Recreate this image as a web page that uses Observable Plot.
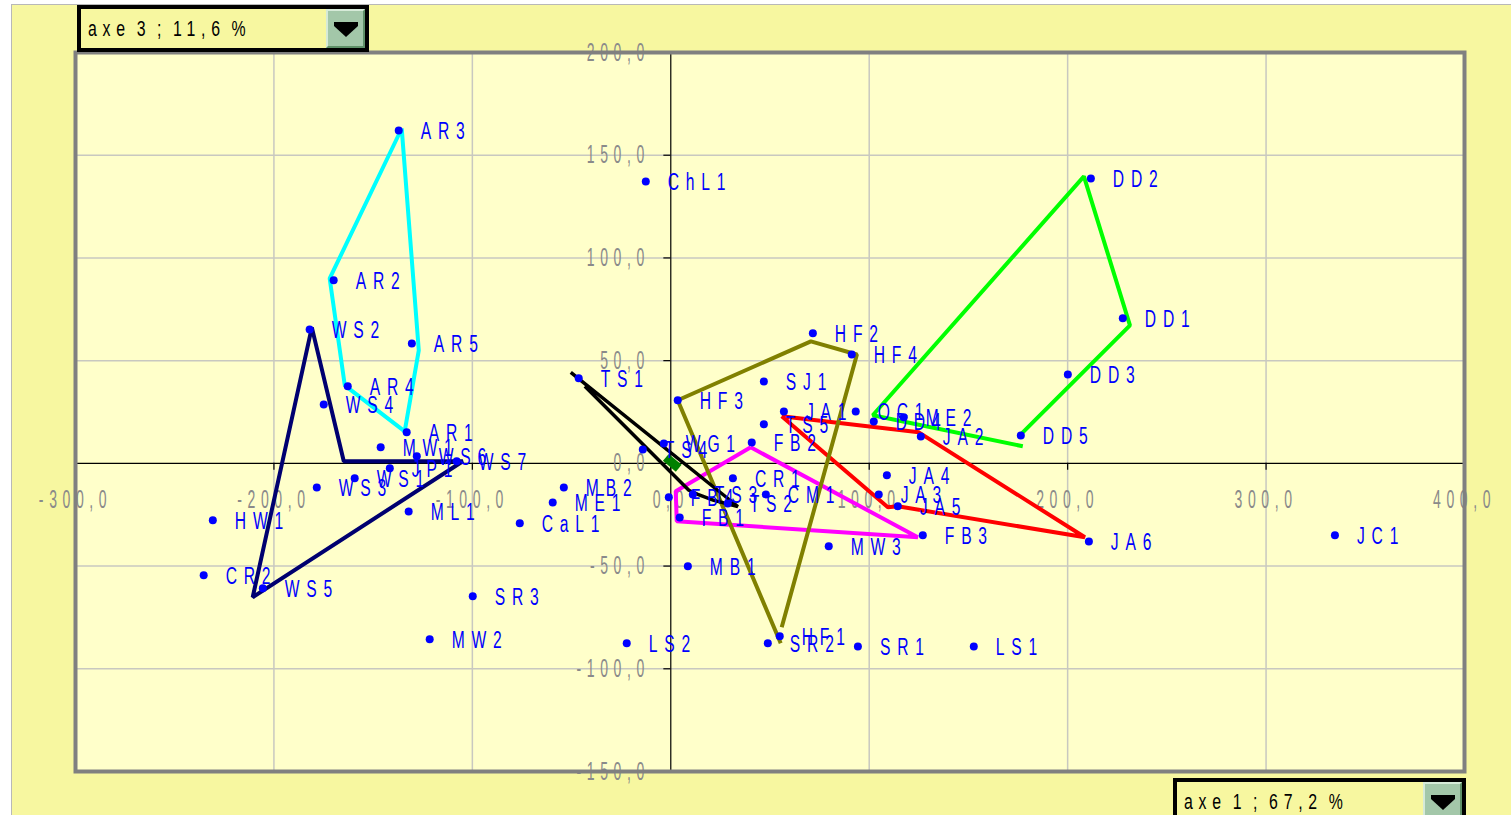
<!DOCTYPE html>
<html>
<head>
<meta charset="utf-8">
<script src="https://cdn.jsdelivr.net/npm/d3@7"></script>
<script src="https://cdn.jsdelivr.net/npm/@observablehq/plot@0.6"></script>
<style>
  html, body { margin: 0; padding: 0; background: #fff; }
  #wrap { position: relative; width: 1511px; height: 815px; overflow: hidden; background: #fff; }
  #bg { position: absolute; left: 11px; top: 4px; right: 0; bottom: 0; background: #f7f7a0;
        border-left: 1px solid #b8b8b8; border-top: 1px solid #b8b8b8; }
  #chart { position: absolute; left: 0; top: 0; }
  #chart svg { display: block; }
  .axbox { position: absolute; box-sizing: border-box; border: 4px solid #000; background: #f7f7a0;
           height: 47px; }
  .axbox .txt { position: absolute; left: 7px; top: 0; line-height: 39px; font-size: 22px;
           font-family: 'Liberation Sans', Arial, sans-serif; letter-spacing: 8px; word-spacing: -6px;
           color: #000; white-space: pre; transform: scaleX(0.72); transform-origin: left center; }
  .axbox .btn { position: absolute; right: 0; top: 0; width: 39px; height: 39px; box-sizing: border-box;
           background: #a3c7a9; border-top: 2px solid #d6ead8; border-left: 2px solid #d6ead8;
           border-right: 2px solid #5f9068; border-bottom: 2px solid #5f9068; }
  .axbox .btn svg { position: absolute; left: 6px; top: 11px; }
</style>
</head>
<body>
<div id="wrap">
  <div id="bg"></div>
  <div id="chart"></div>
  <div class="axbox" style="left:77px; top:5px; width:292px;">
    <span class="txt">axe 3 ; 11,6 %</span>
    <div class="btn"><svg width="24" height="16"><rect x="0" y="0" width="24" height="4" fill="#000"/><path d="M0,4 L24,4 L12,15 Z" fill="#000"/></svg></div>
  </div>
  <div class="axbox" style="left:1173px; top:778px; width:293px;">
    <span class="txt">axe 1 ; 67,2 %</span>
    <div class="btn"><svg width="24" height="16"><rect x="0" y="0" width="24" height="4" fill="#000"/><path d="M0,4 L24,4 L12,15 Z" fill="#000"/></svg></div>
  </div>
</div>
<script>
// ---- point data (axe 1 = x, axe 3 = y) ----
const names = ["AR3","ChL1","DD2","AR2","DD1","WS2","AR5","HF2","HF4","TS1","SJ1","DD3","AR4","WS4","HF3",
  "JA1","OC1","ME2","DD4","TS5","AR1","DD5","JA2","FB2","WG1","MW1","TS4","WS6","WS7","JP1","JA4","WS1",
  "CR1","WS3","CM1","JA3","TS3","FB4","ME1","MB2","TS2","JA5","ML1","FB1","HW1","CaL1","FB3","JC1","JA6",
  "MW3","MB1","CR2","WS5","SR3","HF1","MW2","LS2","SR2","SR1","LS1"];
const axe1 = [-137.1,-12.6,211.7,-169.9,227.8,-182.0,-130.5,71.6,91.2,-46.4,46.9,200.1,-162.8,-174.9,3.5,
  57.0,93.2,117.4,102.3,46.9,-133.1,176.4,126.0,40.8,-3.5,-146.2,-14.1,-128.0,-107.9,-141.6,108.9,-159.3,
  31.3,-178.4,47.9,104.8,11.1,-1.0,-59.5,-53.9,28.7,114.4,-132.1,4.5,-230.8,-76.1,127.0,334.7,210.7,
  79.6,8.6,-235.4,-205.6,-99.8,54.9,-121.5,-22.2,48.9,94.3,152.7];
const axe3 = [162.0,137.2,138.7,89.1,70.6,65.2,58.4,63.3,53.0,41.4,39.9,43.3,37.5,28.7,30.7,
  25.3,25.3,22.4,20.4,19.0,15.1,13.6,13.1,10.2,9.7,7.8,6.8,3.4,1.0,-2.4,-5.8,-7.3,
  -7.3,-11.7,-15.1,-15.1,-15.1,-16.5,-19.0,-11.7,-19.5,-20.9,-23.4,-26.3,-27.7,-29.2,-35.0,-35.0,-38.0,
  -40.4,-50.1,-54.5,-60.8,-64.7,-84.2,-85.6,-87.6,-87.6,-89.1,-89.1];

// ---- group outlines (x = axe 1, y = axe 3) ----
const arX = [-135.6,-171.9,-164.3,-134.1,-127.0,-135.6];
const arY = [163.0,90.0,38.0,15.6,55.0,163.0];
const wsX = [-180.9,-164.8,-104.8,-210.7,-180.9];
const wsY = [66.2,1.0,1.0,-65.2,66.2];
const ddX = [177.4,101.8,208.2,231.4,176.9];
const ddY = [8.3,23.4,139.7,67.2,14.6];
const jaX = [55.9,125.0,208.7,114.4,109.4,55.9];
const jaY = [22.9,15.1,-36.0,-20.9,-21.4,22.9];
const fbX = [40.3,124.5,3.0,2.5,40.3];
const fbY = [7.8,-36.0,-28.2,-13.6,7.8];
const hfX = [55.9,93.8,70.6,3.5,55.4];
const hfY = [-79.8,53.0,59.4,30.7,-87.6];
const tsX = [-50.4,33.8,21.7,13.6,9.1,-43.3];
const tsY = [44.3,-21.0,-18.0,-15.1,-13.1,37.5];
const originX = [-2.5,4.0];
const originY = [2.9,-2.4];

// ---- ticks ----
const xTicks = [-300,-200,-100,0,100,200,300,400];
const xTickLabels = ["-300,0","-200,0","-100,0","0,0","100,0","200,0","300,0","400,0"];
const yTicks = [-150,-100,-50,0,50,100,150,200];
const yTickLabels = ["-150,0","-100,0","-50,0","0,0","50,0","100,0","150,0","200,0"];

const points = names.map((n, i) => ({name: n, x: axe1[i], y: axe3[i]}));
const mk = (xs, ys) => xs.map((x, i) => ({x, y: ys[i]}));
const groups = [
  {pts: mk(arX, arY), color: "#00ffff", w: 4},
  {pts: mk(wsX, wsY), color: "#000070", w: 4},
  {pts: mk(ddX, ddY), color: "#00ff00", w: 4},
  {pts: mk(jaX, jaY), color: "#ff0000", w: 4},
  {pts: mk(fbX, fbY), color: "#ff00ff", w: 4},
  {pts: mk(hfX, hfY), color: "#808000", w: 4},
  {pts: mk(tsX, tsY), color: "#000000", w: 3.5}
];
const xT = xTicks.map((v, i) => ({v, label: xTickLabels[i]}));
const yT = yTicks.map((v, i) => ({v, label: yTickLabels[i]}));
const font = "'Liberation Sans', Arial, sans-serif";

const chart = Plot.plot({
  width: 1511, height: 815,
  marginLeft: 75, marginRight: 47, marginTop: 52, marginBottom: 44,
  x: {domain: [-300, 400], axis: null},
  y: {domain: [-150, 200], axis: null},
  style: {background: "transparent", overflow: "visible"},
  marks: [
    Plot.frame({fill: "#ffffca", stroke: null}),
    Plot.ruleX(xTicks.filter(v => v !== 0), {stroke: "#c8c8c0", strokeWidth: 1.5}),
    Plot.ruleY(yTicks.filter(v => v !== 0), {stroke: "#c8c8c0", strokeWidth: 1.5}),
    Plot.ruleX([0], {stroke: "#000", strokeWidth: 1.2}),
    Plot.ruleY([0], {stroke: "#000", strokeWidth: 1.2}),
    Plot.ruleX(xTicks, {x: d => d, y1: 0, y2: -3.4, stroke: "#000", strokeWidth: 1.2}),
    Plot.ruleY(yTicks, {y: d => d, x1: 0, x2: -3.5, stroke: "#000", strokeWidth: 1.2}),
    Plot.text(xT, {x: "v", y: 0, dy: 37, text: "label", fill: "#8a8a8a", fontSize: 25,
      fontFamily: font, textAnchor: "middle"}),
    Plot.text(yT, {x: 0, y: "v", dx: -21, text: "label", fill: "#8a8a8a", fontSize: 25,
      fontFamily: font, textAnchor: "end"}),
    ...groups.map(g => Plot.line(g.pts, {x: "x", y: "y", stroke: g.color, strokeWidth: g.w,
      strokeLinejoin: "miter", strokeLinecap: "butt", curve: "linear"})),
    Plot.line(mk(originX, originY), {x: "x", y: "y", stroke: "#008000", strokeWidth: 9, strokeLinecap: "butt"}),
    Plot.dot(points, {x: "x", y: "y", r: 4, fill: "#0000ff", stroke: null}),
    Plot.text(points, {x: "x", y: "y", text: "name", dx: 22, dy: 1, textAnchor: "start",
      fill: "#0000fe", fontSize: 23, fontFamily: font}),
    Plot.frame({stroke: "#808080", strokeWidth: 4})
  ]
});
document.getElementById("chart").appendChild(chart);

// condensed, letter-spaced lettering like the original software
d3.select(chart).selectAll("g").each(function () {
  const fill = (this.getAttribute("fill") || "").toLowerCase();
  let ls, sx;
  if (fill === "#0000fe") { ls = 10; sx = 0.68; }
  else if (fill === "#8a8a8a") { ls = 10; sx = 0.56; }
  else return;
  d3.select(this).selectAll("text").each(function () {
    this.style.letterSpacing = ls + "px";
    const tr = this.getAttribute("transform");
    if (tr) {
      this.setAttribute("transform", tr + ` scale(${sx},1)`);
    } else {
      const x = +this.getAttribute("x") || 0, y = +this.getAttribute("y") || 0;
      this.removeAttribute("x"); this.removeAttribute("y");
      this.setAttribute("transform", `translate(${x},${y}) scale(${sx},1)`);
    }
  });
});
</script>
</body>
</html>
